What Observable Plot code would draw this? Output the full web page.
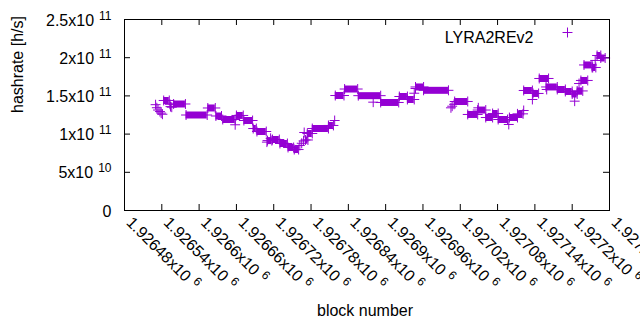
<!DOCTYPE html>
<html><head><meta charset="utf-8">
<script src="https://cdn.jsdelivr.net/npm/d3@7"></script>
<script src="https://cdn.jsdelivr.net/npm/@observablehq/plot@0.6"></script>
<style>body{margin:0;background:#fff} svg{display:block;overflow:visible}</style>
</head><body><div id="chart"></div>
<script>
const seriesName = "LYRA2REv2";
const xTitle = "block number";
const yTitle = "hashrate [h/s]";

// constant-hashrate runs: first block, last block, hashrate (GH/s)
const runStart = [1926543,1926559,1926579,1926614,1926627,1926638,1926660,1926672,1926687,1926693,1926710,1926718,1926730,1926743,1926753,1926771,1926774,1926782,1926808,1926819,1926834,1926856,1926892,1926922,1926935,1926948,1926961,1927011,1927032,1927048,1927061,1927072,1927081,1927099,1927112,1927122,1927137,1927147,1927158,1927176,1927189,1927200,1927208,1927214,1927219,1927232,1927240,1927246];
const runEnd   = [1926552,1926578,1926613,1926626,1926636,1926658,1926671,1926686,1926692,1926708,1926717,1926729,1926742,1926752,1926760,1926775,1926782,1926808,1926816,1926833,1926855,1926892,1926921,1926935,1926946,1926961,1927001,1927032,1927048,1927061,1927072,1927081,1927096,1927112,1927121,1927136,1927146,1927162,1927176,1927189,1927200,1927208,1927217,1927225,1927232,1927238,1927246,1927253];
const runValue = [144.0,139.4,125.0,134.2,123.7,119.1,124.4,117.8,107.3,103.4,91.5,92.9,87.7,82.5,79.8,92.3,100.8,107.3,111.3,150.5,159.0,150.3,141.4,149.2,145.3,161.7,157.3,142.7,125.7,131.5,121.7,127.0,119.1,121.7,126.5,157.1,153.2,172.8,161.7,158.4,155.8,152.5,156.5,170.2,190.5,187.2,202.9,199.6];

// isolated points: block, hashrate (GH/s)
const pointBlock = [1926530,1926532,1926534,1926537,1926539,1926541,1926553,1926554,1926556,1926658,1926709,1926715,1926762,1926765,1926768,1926769,1926818,1926880,1926946,1926948,1927005,1927007,1927010,1927049,1927098,1927122,1927136,1927159,1927204,1927211,1927233,1927237];
const pointValue = [138.5,134.5,131.5,129.5,127.5,126.0,139.0,136.0,135.2,112.2,89.5,94.5,85.1,88.0,91.0,102.1,117.8,141.8,153.5,159.7,134.4,136.5,139.0,134.4,112.6,130.9,145.3,158.4,143.1,166.2,187.2,196.4];

const xTicks = [1926480,1926540,1926600,1926660,1926720,1926780,1926840,1926900,1926960,1927020,1927080,1927140,1927200,1927260];
const xTickMantissa = ["1.92648x10","1.92654x10","1.9266x10","1.92666x10","1.92672x10","1.92678x10","1.92684x10","1.9269x10","1.92696x10","1.92702x10","1.92708x10","1.92714x10","1.9272x10","1.92726x10"];
const xTickExp = ["6","6","6","6","6","6","6","6","6","6","6","6","6","6"];
const yTicks = [0,5e10,1e11,1.5e11,2e11,2.5e11];
const yTickMantissa = ["0","5x10","1x10","1.5x10","2x10","2.5x10"];
const yTickExp = ["","10","11","11","11","11"];

const color = "#9400d3";
const font = "'Liberation Sans', Arial, sans-serif";

const runs = runStart.map((s, i) => ({start: s, end: runEnd[i], value: runValue[i] * 1e9}));
const points = pointBlock.map((b, i) => ({block: b, value: pointValue[i] * 1e9}));
const xi = d3.range(xTicks.length);
const yi = d3.range(yTicks.length);

const dotOpts = {symbol: "plus", r: 3.3, stroke: color, strokeWidth: 1};

const chart = Plot.plot({
  width: 640, height: 330,
  marginLeft: 124, marginRight: 31, marginTop: 19, marginBottom: 120,
  style: {fontFamily: font, background: "white"},
  x: {domain: [1926480, 1927260], axis: null},
  y: {domain: [0, 2.5e11], axis: null},
  marks: [
    Plot.tickX(xTicks, {x: d => d, insetTop: 185, stroke: "black"}),
    Plot.tickX(xTicks, {x: d => d, insetBottom: 185, stroke: "black"}),
    Plot.tickY(yTicks, {y: d => d, insetRight: 479, stroke: "black"}),
    Plot.tickY(yTicks, {y: d => d, insetLeft: 479, stroke: "black"}),
    Plot.ruleY(runs, {x1: "start", x2: "end", y: "value", stroke: color, strokeWidth: 7}),
    Plot.dot(runs, {x: "start", y: "value", ...dotOpts}),
    Plot.dot(runs, {x: "end", y: "value", ...dotOpts}),
    Plot.dot(points, {x: "block", y: "value", ...dotOpts}),
    Plot.frame({stroke: "black"}),
    Plot.text(yi, {y: i => yTicks[i], text: i => yTickMantissa[i], frameAnchor: "left", textAnchor: "end", dx: -13, dy: 1, fontSize: 16, className: "ylab"}),
    Plot.text(xi, {x: i => xTicks[i], text: i => xTickMantissa[i], frameAnchor: "bottom", rotate: 45, textAnchor: "start", dx: 1, dy: 13, fontSize: 16, className: "xlab"}),
    Plot.text([seriesName], {frameAnchor: "top-right", text: d => d, textAnchor: "end", dx: -76, dy: 12, fontSize: 16}),
    Plot.dot([seriesName], {frameAnchor: "top-right", dx: -42, dy: 13, ...dotOpts}),
    Plot.text([yTitle], {frameAnchor: "left", text: d => d, rotate: -90, dx: -107, dy: -2, fontSize: 16}),
    Plot.text([xTitle], {frameAnchor: "bottom", text: d => d, dx: -2, dy: 105, fontSize: 16})
  ]
});

d3.select(chart).selectAll(".ylab text").each(function(d) {
  if (yTickExp[d]) d3.select(this).append("tspan").attr("dx", 5).attr("dy", -6).attr("font-size", 12).text(yTickExp[d]);
});
d3.select(chart).selectAll(".xlab text").each(function(d) {
  d3.select(this).append("tspan").attr("dx", 5).attr("dy", -6).attr("font-size", 12).text(xTickExp[d]);
});
document.getElementById("chart").appendChild(chart);
</script>
</body></html>
